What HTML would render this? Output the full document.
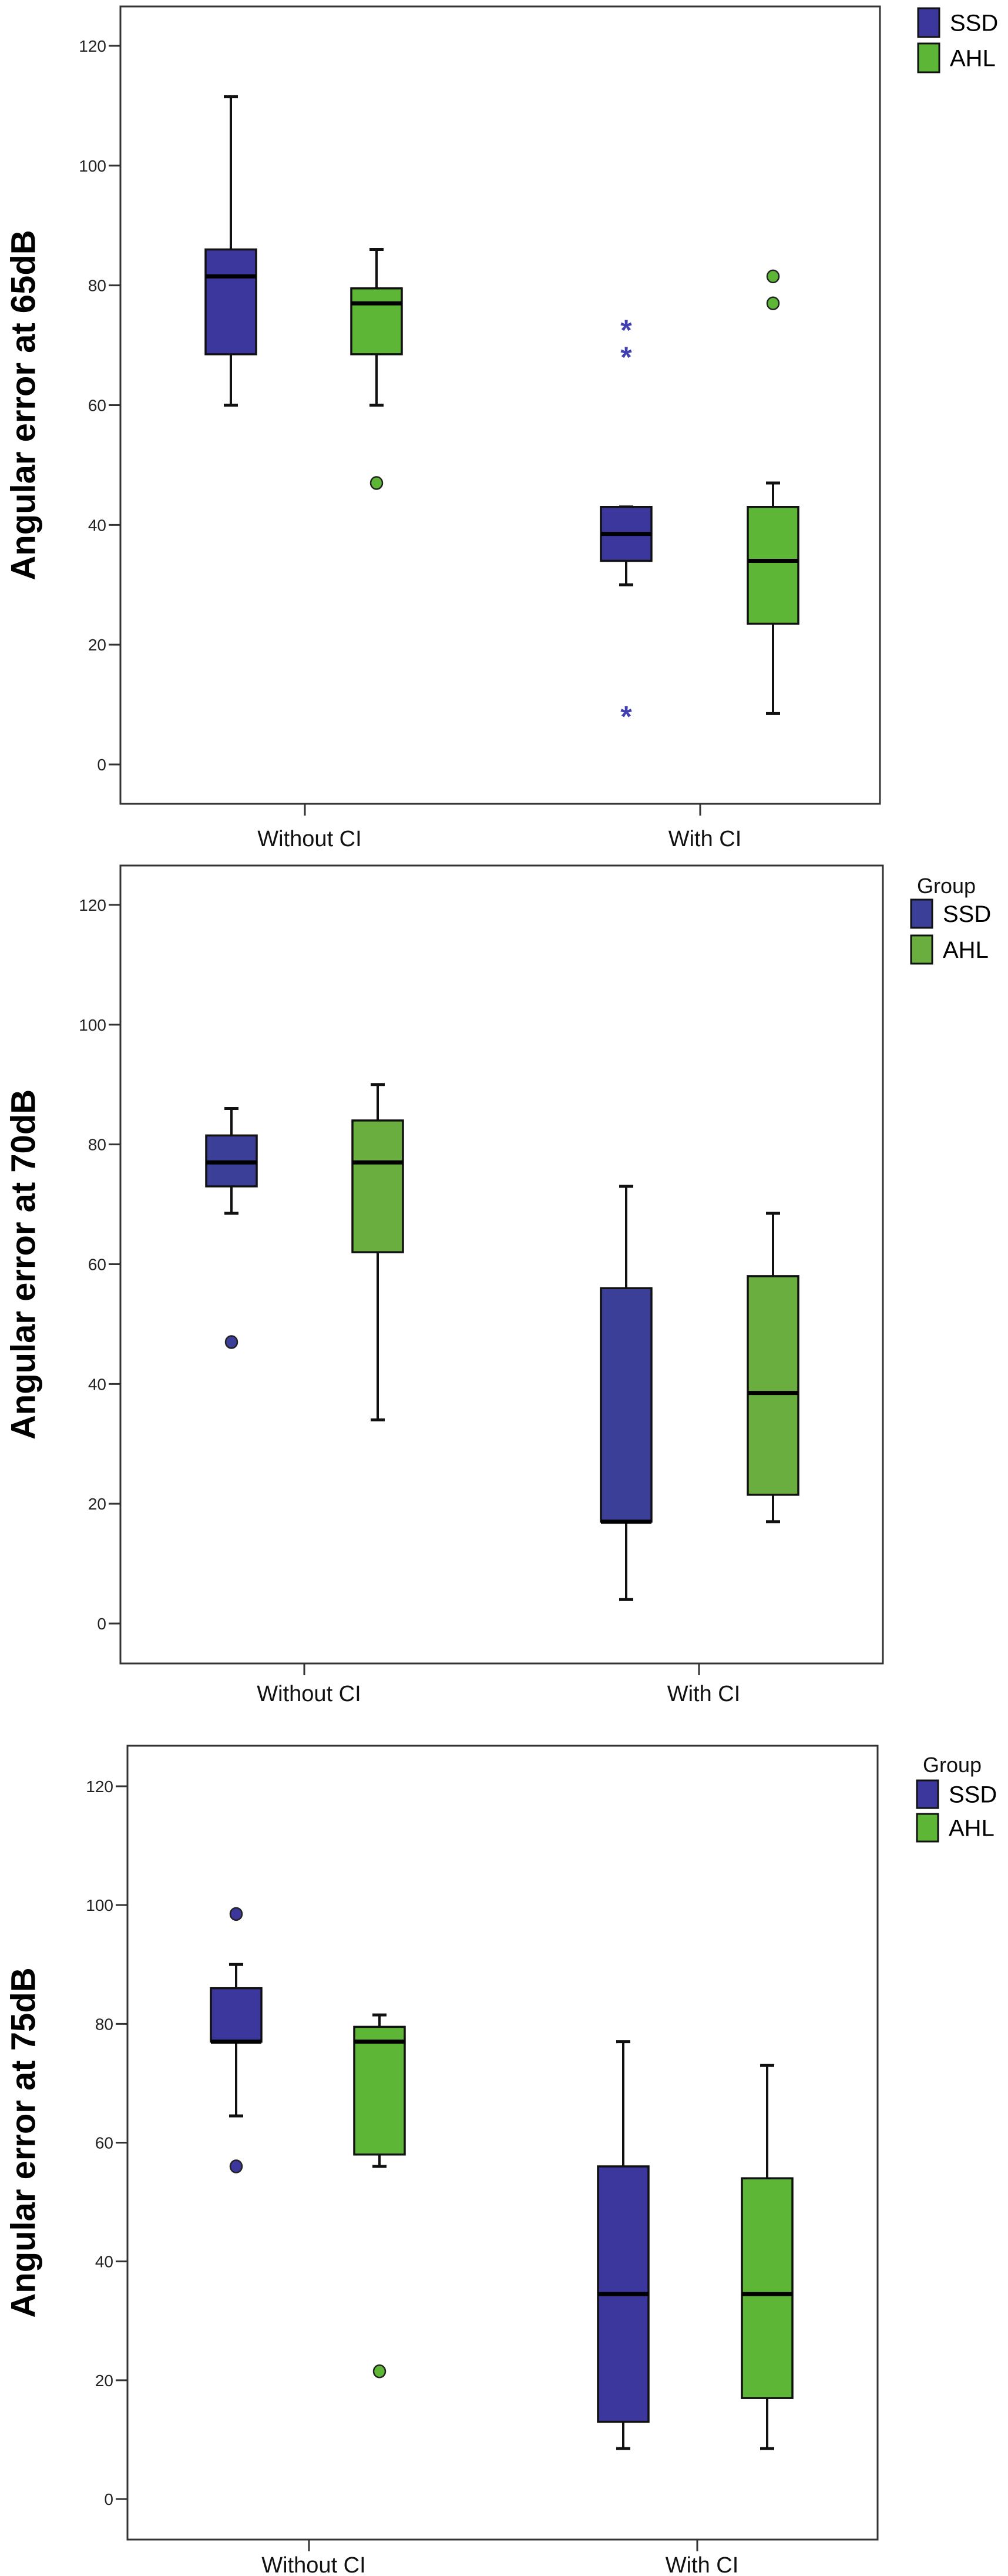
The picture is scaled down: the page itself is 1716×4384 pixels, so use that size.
<!DOCTYPE html>
<html><head><meta charset="utf-8"><style>
html,body{margin:0;padding:0;background:#fff;width:1716px;height:4384px;overflow:hidden}
svg{display:block}
text{font-family:"Liberation Sans",Arial,sans-serif}
</style></head><body>
<svg id="fig" width="1716" height="4384" viewBox="0 0 1716 4384" xmlns="http://www.w3.org/2000/svg"></svg>
<script>
// ---- data ----
const categories = ["Without CI", "With CI"];
const groups = ["SSD", "AHL"];
const yTicks = [0, 20, 40, 60, 80, 100, 120];
const titles = ["Angular error at 65dB", "Angular error at 70dB", "Angular error at 75dB"];
// [min, q1, median, q3, max] for SSD-without, AHL-without, SSD-with, AHL-with
const stats65 = [[60,68.5,81.5,86,111.5],[60,68.5,77,79.5,86],[30,34,38.5,43,43],[8.5,23.5,34,43,47]];
const outliers65 = [[],[47],[],[81.5,77]];
const extremes65 = [[],[],[73,68.5,8.5],[]];
const stats70 = [[68.5,73,77,81.5,86],[34,62,77,84,90],[4,17,17,56,73],[17,21.5,38.5,58,68.5]];
const outliers70 = [[47],[],[],[]];
const extremes70 = [[],[],[],[]];
const stats75 = [[64.5,77,77,86,90],[56,58,77,79.5,81.5],[8.5,13,34.5,56,77],[8.5,17,34.5,54,73]];
const outliers75 = [[98.5,56],[21.5],[],[]];
const extremes75 = [[],[],[],[]];

const NS = "http://www.w3.org/2000/svg";
const fig = document.getElementById('fig');
function mk(tag, attrs, parent, txt){
  const e = document.createElementNS(NS, tag);
  for (const k in attrs) e.setAttribute(k, attrs[k]);
  if (txt !== undefined) e.textContent = txt;
  (parent || fig).appendChild(e);
  return e;
}
const colors = ["#3b379c", "#5db635"];
const colors2 = ["#3b3f98", "#6aae3f"];

const layouts = [
  {left:205, right:1498, top:11, bottom:1368, y0:1301, y120:78, centers:[393,641,1066,1316], ticks:[519,1192], catY:1440, legend:{group:false, sx:1563, s1:14, s2:74, sh:49}, titleX:40, pal:colors},
  {left:205, right:1503, top:1473, bottom:2831, y0:2763, y120:1540, centers:[394,643,1066,1316], ticks:[518,1190], catY:2895, legend:{group:true, gy:1512, sx:1551, s1:1531, s2:1592, sh:48}, titleX:40, pal:colors2},
  {left:217, right:1494, top:2971, bottom:4322, y0:4253, y120:3040, centers:[402,646,1061,1306], ticks:[526,1187], catY:4378, legend:{group:true, gy:3008, sx:1561, s1:3030, s2:3087, sh:47}, titleX:40, pal:colors}
];
const allStats = [stats65, stats70, stats75];
const allOut = [outliers65, outliers70, outliers75];
const allExt = [extremes65, extremes70, extremes75];

layouts.forEach((L, ci) => {
  const g = mk('g', {});
  
  
  const y = v => L.y0 - (v / 120) * (L.y0 - L.y120);
  const frame = mk('rect', {x:L.left, y:L.top, width:L.right-L.left, height:L.bottom-L.top, fill:'none', stroke:'#333', 'stroke-width':3}, g);
  
  
  yTicks.forEach(t => {
    const tk = mk('line', {x1:L.left-20, x2:L.left, y1:y(t), y2:y(t), stroke:'#333', 'stroke-width':3}, g);
    
    
    const tl = mk('text', {x:L.left-24, y:y(t)+10, 'text-anchor':'end', 'font-size':28, fill:'#222'}, g, String(t));
    
    
  });
  categories.forEach((c, k) => {
    const tk = mk('line', {x1:L.ticks[k], x2:L.ticks[k], y1:L.bottom, y2:L.bottom+20, stroke:'#333', 'stroke-width':3}, g);
    
    
    const tl = mk('text', {x:L.ticks[k]+8, y:L.catY, 'text-anchor':'middle', 'font-size':38, fill:'#111'}, g, c);
    
    
  });
  const yc = (L.top + L.bottom) / 2;
  const yt = mk('text', {x:L.titleX, y:yc, transform:'rotate(-90 '+L.titleX+' '+yc+')', 'text-anchor':'middle', 'dominant-baseline':'central', 'font-size':58, 'font-weight':'bold', fill:'#000'}, g, titles[ci]);
  
  

  const st = allStats[ci];
  st.forEach((s, i) => {
    const cx = L.centers[i], hw = 43, col = L.pal[i % 2];
    const bg = mk('g', {}, g);
    
    
    mk('line', {x1:cx, x2:cx, y1:y(s[0]), y2:y(s[1]), stroke:'#111', 'stroke-width':4}, bg);
    mk('line', {x1:cx, x2:cx, y1:y(s[3]), y2:y(s[4]), stroke:'#111', 'stroke-width':4}, bg);
    mk('line', {x1:cx-12, x2:cx+12, y1:y(s[0]), y2:y(s[0]), stroke:'#111', 'stroke-width':5}, bg);
    mk('line', {x1:cx-12, x2:cx+12, y1:y(s[4]), y2:y(s[4]), stroke:'#111', 'stroke-width':5}, bg);
    mk('rect', {x:cx-hw, y:y(s[3]), width:2*hw, height:Math.max(1, y(s[1])-y(s[3])), fill:col, stroke:'#111', 'stroke-width':3.5}, bg);
    mk('line', {x1:cx-hw, x2:cx+hw, y1:y(s[2]), y2:y(s[2]), stroke:'#000', 'stroke-width':7}, bg);
    allOut[ci][i].forEach(v => {
      const o = mk('ellipse', {cx:cx, cy:y(v), rx:10, ry:10.5, fill:col, stroke:'#222', 'stroke-width':2.5}, g);
      
      
    });
    allExt[ci][i].forEach(v => {
      const o = mk('text', {x:cx, y:y(v)+22, 'text-anchor':'middle', 'font-size':50, 'font-weight':'bold', fill:'#3f3fb0'}, g, '*');
      
      
    });
  });

  const lg = mk('g', {}, g);
  
  
  const Lg = L.legend;
  if (Lg.group) {
    const gt = mk('text', {x:Lg.sx+60, y:Lg.gy+8, 'text-anchor':'middle', 'font-size':36, fill:'#111'}, lg, 'Group');
    
    
  }
  [Lg.s1, Lg.s2].forEach((sy, k) => {
    const sw = mk('rect', {x:Lg.sx, y:sy, width:36, height:Lg.sh, fill:L.pal[k], stroke:'#111', 'stroke-width':3}, lg);
    
    
    const tx = mk('text', {x:Lg.sx+54, y:sy+Lg.sh/2+14, 'font-size':40, fill:'#000'}, lg, groups[k]);
    
    
  });
});
</script>
</body></html>
